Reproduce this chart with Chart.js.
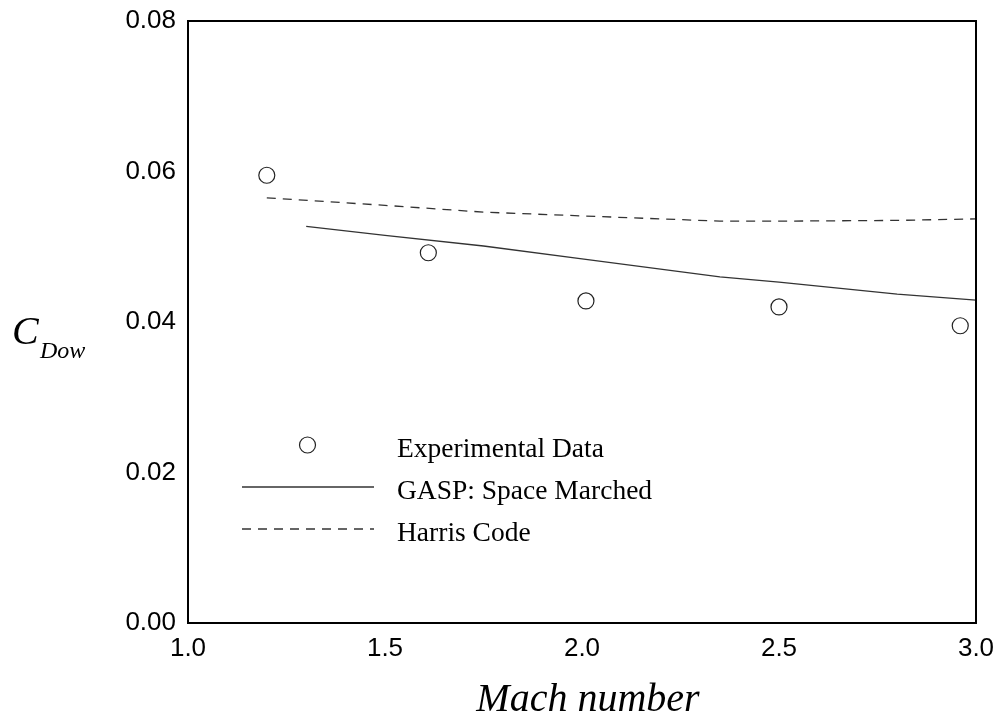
<!DOCTYPE html>
<html>
<head>
<meta charset="utf-8">
<title>Base drag coefficient vs Mach number</title>
<script src="https://cdn.jsdelivr.net/npm/chart.js@4.4.1/dist/chart.umd.min.js"></script>
<style>
  html, body { margin: 0; padding: 0; background: #fff; }
  #wrap { width: 1000px; height: 723px; }
</style>
</head>
<body>
<div id="wrap"><canvas id="cdChart" width="1000" height="723"></canvas></div>
<script>
// --- data ---
const expMach = [1.2, 1.61, 2.01, 2.5, 2.96];
const expCd   = [0.0595, 0.0492, 0.0428, 0.0420, 0.0395];

const gaspMach = [1.3, 1.5, 1.75, 2.0, 2.35, 2.5, 2.8, 3.0];
const gaspCd   = [0.0527, 0.0515, 0.0501, 0.0484, 0.0460, 0.0453, 0.0437, 0.0429];

const harrisMach = [1.2, 1.5, 1.75, 2.0, 2.35, 2.5, 2.8, 3.0];
const harrisCd   = [0.0565, 0.0555, 0.0546, 0.0541, 0.0534, 0.0534, 0.0535, 0.0537];

const xTicks = [1.0, 1.5, 2.0, 2.5, 3.0];
const yTicks = [0.00, 0.02, 0.04, 0.06, 0.08];

const seriesNames = ["Experimental Data", "GASP: Space Marched", "Harris Code"];

const toXY = (xs, ys) => xs.map((x, i) => ({ x: x, y: ys[i] }));

const tickFont = { family: "'Liberation Sans', Arial, sans-serif", size: 26 };
const serif = "'Liberation Serif', 'Times New Roman', serif";

// frame, axis titles and the in-plot legend
const decorations = {
  id: "decorations",
  afterDraw(chart) {
    const { ctx, chartArea: a } = chart;
    ctx.save();
    ctx.strokeStyle = "#000";
    ctx.lineWidth = 2;
    ctx.strokeRect(a.left, a.top, a.right - a.left, a.bottom - a.top);

    // x title
    ctx.fillStyle = "#000";
    ctx.font = "italic 40px " + serif;
    ctx.textAlign = "center";
    ctx.textBaseline = "middle";
    ctx.fillText("Mach number", 588, 700);

    // y title: C with subscript
    ctx.textAlign = "left";
    ctx.textBaseline = "alphabetic";
    ctx.font = "italic 40px " + serif;
    ctx.fillText("C", 12, 344);
    ctx.font = "italic 24px " + serif;
    ctx.fillText("Dow", 40, 358);

    // legend: marker/line row, label sits a little lower
    const ds = chart.data.datasets;
    const x0 = 242, x1 = 374, tx = 397;
    const rows = [445, 487, 529];
    ctx.font = "27.5px " + serif;
    ctx.textBaseline = "middle";
    ds.forEach((d, i) => {
      const y = rows[i];
      ctx.strokeStyle = d.borderColor;
      ctx.lineWidth = d.borderWidth;
      if (i === 0) {
        ctx.beginPath();
        ctx.arc((x0 + x1) / 2 - 0.5, y, d.pointRadius, 0, Math.PI * 2);
        ctx.stroke();
      } else {
        ctx.setLineDash(d.borderDash || []);
        ctx.beginPath();
        ctx.moveTo(x0, y);
        ctx.lineTo(x1, y);
        ctx.stroke();
        ctx.setLineDash([]);
      }
      ctx.fillStyle = "#000";
      ctx.fillText(d.label, tx, y + 5);
    });
    ctx.restore();
  }
};

new Chart(document.getElementById("cdChart"), {
  type: "scatter",
  data: {
    datasets: [
      {
        label: seriesNames[0],
        data: toXY(expMach, expCd),
        showLine: false,
        pointStyle: "circle",
        pointRadius: 8,
        pointBorderWidth: 1.2,
        borderWidth: 1.2,
        borderColor: "#222",
        pointBorderColor: "#222",
        backgroundColor: "rgba(0,0,0,0)"
      },
      {
        label: seriesNames[1],
        data: toXY(gaspMach, gaspCd),
        showLine: true,
        pointRadius: 0,
        borderWidth: 1.3,
        borderColor: "#333",
        tension: 0
      },
      {
        label: seriesNames[2],
        data: toXY(harrisMach, harrisCd),
        showLine: true,
        pointRadius: 0,
        borderWidth: 1.3,
        borderColor: "#333",
        borderDash: [9, 7],
        tension: 0
      }
    ]
  },
  options: {
    responsive: false,
    animation: false,
    layout: { padding: { left: 0, top: 21, right: 24, bottom: 0 } },
    plugins: { legend: { display: false }, tooltip: { enabled: false } },
    scales: {
      x: {
        type: "linear",
        min: 1.0, max: 3.0,
        grid: { display: false, drawTicks: false },
        border: { display: false },
        // fixed axis band; label overhang is covered by layout padding
        afterFit: (s) => { s.height = 100; s.paddingLeft = 0; s.paddingRight = 0; },
        afterBuildTicks: (s) => { s.ticks = xTicks.map(v => ({ value: v })); },
        ticks: {
          color: "#000",
          font: tickFont,
          padding: 10,
          maxRotation: 0,
          callback: (v) => Number(v).toFixed(1)
        }
      },
      y: {
        type: "linear",
        min: 0, max: 0.08,
        grid: { display: false, drawTicks: false },
        border: { display: false },
        afterFit: (s) => { s.width = 188; s.paddingTop = 0; s.paddingBottom = 0; },
        afterBuildTicks: (s) => { s.ticks = yTicks.map(v => ({ value: v })); },
        ticks: {
          color: "#000",
          font: tickFont,
          padding: 12,
          callback: (v) => Number(v).toFixed(2)
        }
      }
    }
  },
  plugins: [decorations]
});
</script>
</body>
</html>
